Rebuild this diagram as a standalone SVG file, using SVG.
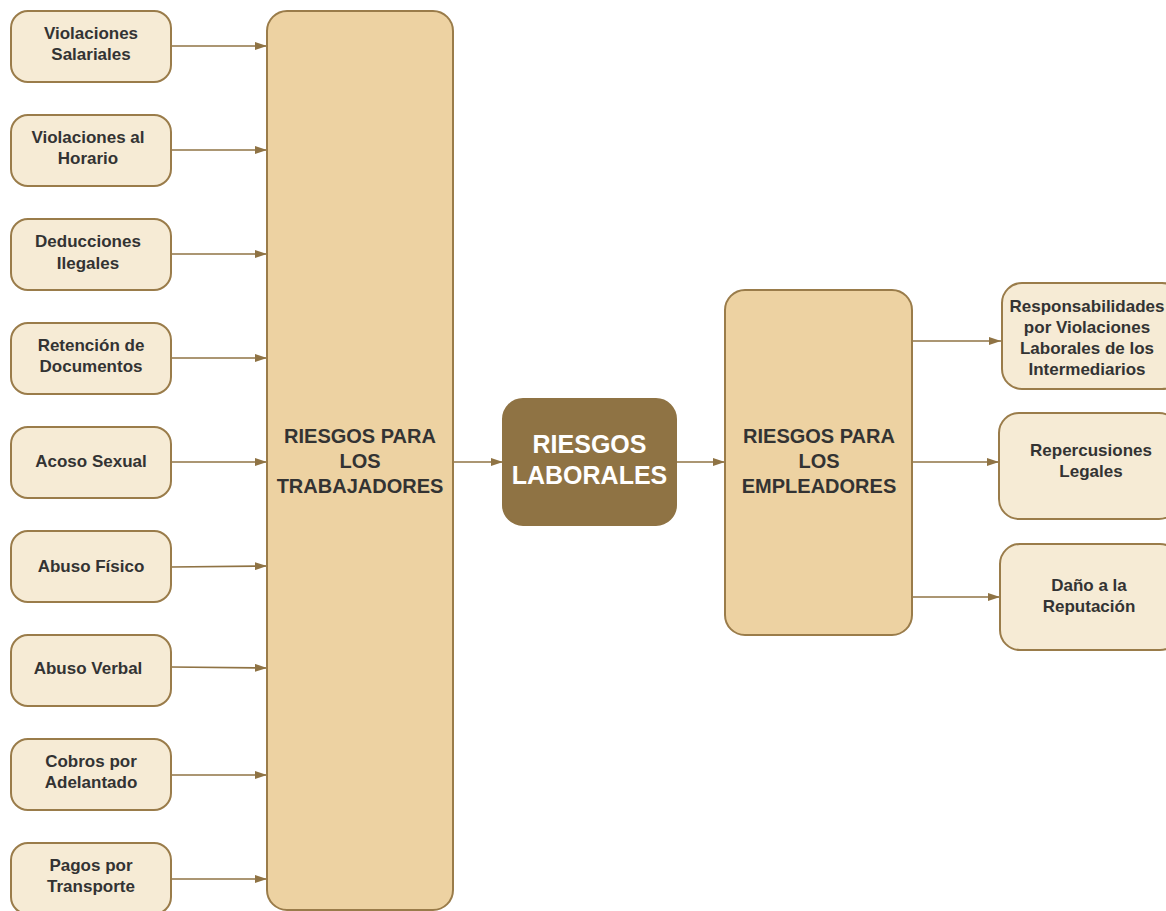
<svg xmlns="http://www.w3.org/2000/svg" width="1166" height="911" viewBox="0 0 1166 911">
<style>
.leaf{fill:#f6ebd5;stroke:#9a7c4a;stroke-width:2}
.big{fill:#edd2a2;stroke:#9a7c4a;stroke-width:2}
.core{fill:#8f7344;stroke:#8f7344;stroke-width:2}
.t{font-family:"Liberation Sans",Arial,sans-serif;font-weight:bold;fill:#333333;text-anchor:middle}
.s{font-size:17px}
.b{font-size:20px}
.w{font-size:25px;fill:#ffffff}
.c{stroke:#8f7344;stroke-width:1.6;fill:none;marker-end:url(#ah)}
</style>
<defs>
<marker id="ah" viewBox="0 0 12 8" refX="12" refY="4" markerWidth="12" markerHeight="8" markerUnits="userSpaceOnUse" orient="auto">
<path d="M0,0 L12,4 L0,8 Z" fill="#8f7344"/>
</marker>
</defs>
<rect width="1166" height="911" fill="#ffffff"/>
<g id="connectors">
<line class="c" x1="171" y1="46" x2="267" y2="46"/>
<line class="c" x1="171" y1="150" x2="267" y2="150"/>
<line class="c" x1="171" y1="254" x2="267" y2="254"/>
<line class="c" x1="171" y1="358" x2="267" y2="358"/>
<line class="c" x1="171" y1="462" x2="267" y2="462"/>
<line class="c" x1="171" y1="567" x2="267" y2="566"/>
<line class="c" x1="171" y1="667" x2="267" y2="668"/>
<line class="c" x1="171" y1="775" x2="267" y2="775"/>
<line class="c" x1="171" y1="879" x2="267" y2="879"/>
<line class="c" x1="453" y1="462" x2="503" y2="462"/>
<line class="c" x1="676" y1="462" x2="725" y2="462"/>
<line class="c" x1="912" y1="341" x2="1001" y2="341"/>
<line class="c" x1="912" y1="462" x2="999" y2="462"/>
<line class="c" x1="912" y1="597" x2="1000" y2="597"/>
</g>
<g id="n1"><rect class="leaf" x="11" y="11" width="160" height="71" rx="17"/><text class="t s" x="91" y="39">Violaciones</text><text class="t s" x="91" y="60">Salariales</text></g>
<g id="n2"><rect class="leaf" x="11" y="115" width="160" height="71" rx="17"/><text class="t s" x="88" y="143">Violaciones al</text><text class="t s" x="88" y="164">Horario</text></g>
<g id="n3"><rect class="leaf" x="11" y="219" width="160" height="71" rx="17"/><text class="t s" x="88" y="247">Deducciones</text><text class="t s" x="88" y="269">Ilegales</text></g>
<g id="n4"><rect class="leaf" x="11" y="323" width="160" height="71" rx="17"/><text class="t s" x="91" y="351">Retención de</text><text class="t s" x="91" y="372">Documentos</text></g>
<g id="n5"><rect class="leaf" x="11" y="427" width="160" height="71" rx="17"/><text class="t s" x="91" y="467">Acoso Sexual</text></g>
<g id="n6"><rect class="leaf" x="11" y="531" width="160" height="71" rx="17"/><text class="t s" x="91" y="572">Abuso Físico</text></g>
<g id="n7"><rect class="leaf" x="11" y="635" width="160" height="71" rx="17"/><text class="t s" x="88" y="674">Abuso Verbal</text></g>
<g id="n8"><rect class="leaf" x="11" y="739" width="160" height="71" rx="17"/><text class="t s" x="91" y="767">Cobros por</text><text class="t s" x="91" y="788">Adelantado</text></g>
<g id="n9"><rect class="leaf" x="11" y="843" width="160" height="71" rx="17"/><text class="t s" x="91" y="871">Pagos por</text><text class="t s" x="91" y="892">Transporte</text></g>
<g id="trabajadores"><rect class="big" x="267" y="11" width="186" height="899" rx="20"/><text class="t b" x="360" y="443">RIESGOS PARA</text><text class="t b" x="360" y="468">LOS</text><text class="t b" x="360" y="493">TRABAJADORES</text></g>
<g id="laborales"><rect class="core" x="503" y="399" width="173" height="126" rx="20"/><text class="t w" x="589.5" y="453">RIESGOS</text><text class="t w" x="589.5" y="484">LABORALES</text></g>
<g id="empleadores"><rect class="big" x="725" y="290" width="187" height="345" rx="20"/><text class="t b" x="819" y="443">RIESGOS PARA</text><text class="t b" x="819" y="468">LOS</text><text class="t b" x="819" y="493">EMPLEADORES</text></g>
<g id="r1"><rect class="leaf" x="1002" y="283" width="180" height="106" rx="20"/><text class="t s" x="1087" y="312">Responsabilidades</text><text class="t s" x="1087" y="333">por Violaciones</text><text class="t s" x="1087" y="354">Laborales de los</text><text class="t s" x="1087" y="375">Intermediarios</text></g>
<g id="r2"><rect class="leaf" x="999" y="413" width="180" height="106" rx="20"/><text class="t s" x="1091" y="456">Repercusiones</text><text class="t s" x="1091" y="477">Legales</text></g>
<g id="r3"><rect class="leaf" x="1000" y="544" width="180" height="106" rx="20"/><text class="t s" x="1089" y="591">Daño a la</text><text class="t s" x="1089" y="612">Reputación</text></g>
</svg>
